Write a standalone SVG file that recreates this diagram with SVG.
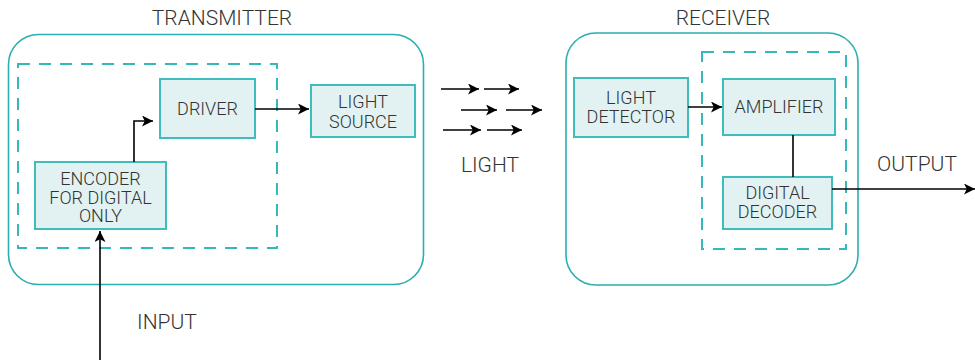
<svg xmlns="http://www.w3.org/2000/svg" width="975" height="360" viewBox="0 0 975 360">
<defs>
<style>
.outer{fill:none;stroke:#2aaeb0;stroke-width:1.6}
.dash{fill:none;stroke:#37b8b8;stroke-width:2;stroke-dasharray:12 9}
.box{fill:#e2f2f2;stroke:#3fbcbc;stroke-width:2}
.t{font-family:Roboto,"Liberation Sans",sans-serif;font-weight:300;fill:#333;text-anchor:middle}
.bt{font-size:18px}
.lt{font-size:21px}
.c{fill:none;stroke:#000;stroke-width:1.6}
</style>
<marker id="ah" viewBox="0 0 10 10" refX="10" refY="5" markerWidth="11" markerHeight="11" markerUnits="userSpaceOnUse" orient="auto">
<path d="M0,0 L10,5 L0,10 L2.5,5 Z" fill="#000"/>
</marker>
</defs>
<g id="transmitter">
<rect class="outer" x="8.5" y="34.5" width="415" height="250" rx="30"/>
<rect class="dash" x="18" y="64" width="259" height="184"/>
<text class="t lt" x="222" y="25">TRANSMITTER</text>
</g>
<g id="receiver">
<rect class="outer" x="566" y="33" width="292" height="252" rx="30"/>
<rect class="dash" x="702" y="52" width="144" height="197"/>
<text class="t lt" x="723" y="25">RECEIVER</text>
</g>
<g id="driver">
<rect class="box" x="160" y="79" width="95" height="59"/>
<text class="t bt" x="207.5" y="115">DRIVER</text>
</g>
<g id="light-source">
<rect class="box" x="311" y="85" width="104" height="52"/>
<text class="t bt" x="363" y="108">LIGHT</text>
<text class="t bt" x="363" y="128">SOURCE</text>
</g>
<g id="encoder">
<rect class="box" x="35" y="162" width="131" height="67"/>
<text class="t bt" x="100.5" y="185">ENCODER</text>
<text class="t bt" x="100.5" y="203.5">FOR DIGITAL</text>
<text class="t bt" x="100.5" y="222">ONLY</text>
</g>
<g id="light-detector">
<rect class="box" x="574" y="78" width="114" height="59"/>
<text class="t bt" x="631" y="104">LIGHT</text>
<text class="t bt" x="631" y="123">DETECTOR</text>
</g>
<g id="amplifier">
<rect class="box" x="723" y="79" width="112" height="56"/>
<text class="t bt" x="779" y="113">AMPLIFIER</text>
</g>
<g id="digital-decoder">
<rect class="box" x="723" y="177" width="109" height="52"/>
<text class="t bt" x="777.5" y="199">DIGITAL</text>
<text class="t bt" x="777.5" y="218">DECODER</text>
</g>
<g id="labels">
<text class="t lt" x="490" y="172">LIGHT</text>
<text class="t lt" x="917" y="171">OUTPUT</text>
<text class="t lt" x="167" y="329">INPUT</text>
</g>
<g id="connectors">
<path class="c" d="M134,162 V121 H153" marker-end="url(#ah)"/>
<path class="c" d="M255,109 H309" marker-end="url(#ah)"/>
<path class="c" d="M100,360 V231" marker-end="url(#ah)"/>
<path class="c" d="M688,107 H722" marker-end="url(#ah)"/>
<path class="c" d="M793,135 V177"/>
<path class="c" d="M832,189 H975" marker-end="url(#ah)"/>
<path class="c" d="M441,89 H479" marker-end="url(#ah)"/>
<path class="c" d="M484,89 H519" marker-end="url(#ah)"/>
<path class="c" d="M461,110 H497" marker-end="url(#ah)"/>
<path class="c" d="M506,110 H542" marker-end="url(#ah)"/>
<path class="c" d="M443,130 H481" marker-end="url(#ah)"/>
<path class="c" d="M487,130 H522" marker-end="url(#ah)"/>
</g>
</svg>
